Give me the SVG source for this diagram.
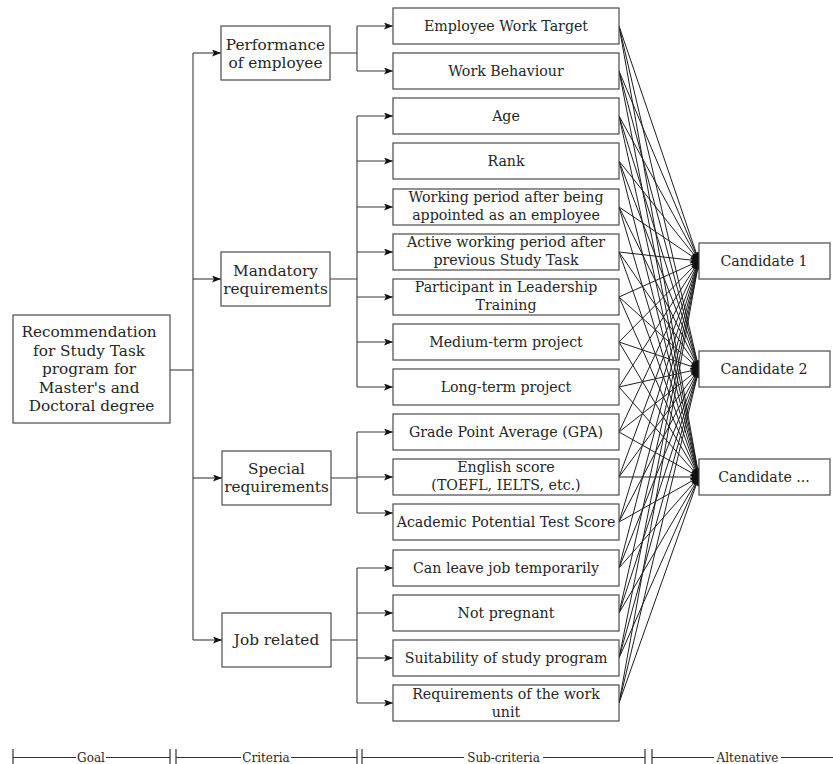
<svg xmlns="http://www.w3.org/2000/svg" width="833" height="764" viewBox="0 0 833 764">
  <style>
    .box { fill: #ffffff; stroke: #4a4a4a; stroke-width: 1.2; }
    .t { font-family: "DejaVu Serif", "Liberation Serif", serif; fill: #262626; text-anchor: middle; }
    .sub { font-size: 14.2px; }
    .big { font-size: 15.3px; }
    .lab { font-size: 12px; }
    .ln { fill: none; stroke: #3a3a3a; stroke-width: 1.1; }
    .fan { fill: none; stroke: #1e1e1e; stroke-width: 1; }
    .ax { fill: none; stroke: #333333; stroke-width: 1.2; }
  </style>
  <defs>
    <marker id="arr" viewBox="0 0 9 7" refX="9" refY="3.5" markerWidth="9" markerHeight="7" markerUnits="userSpaceOnUse" orient="auto">
      <path d="M0,0 L9,3.5 L0,7 L2,3.5 z" fill="#111111"/>
    </marker>
  </defs>

  <!-- connectors -->
  <g id="connectors">
    <!-- goal to criteria -->
    <path class="ln" d="M170,370 H193"/>
    <path class="ln" d="M193,53 V640"/>
    <path class="ln" d="M193,53 H221" marker-end="url(#arr)"/>
    <path class="ln" d="M193,279 H221" marker-end="url(#arr)"/>
    <path class="ln" d="M193,478 H222" marker-end="url(#arr)"/>
    <path class="ln" d="M193,640 H222" marker-end="url(#arr)"/>

    <!-- performance -->
    <path class="ln" d="M330,53 H357 M357,26 V71"/>
    <path class="ln" d="M357,26 H393" marker-end="url(#arr)"/>
    <path class="ln" d="M357,71 H393" marker-end="url(#arr)"/>

    <!-- mandatory -->
    <path class="ln" d="M330,279 H357 M357,116 V387"/>
    <path class="ln" d="M357,116 H393" marker-end="url(#arr)"/>
    <path class="ln" d="M357,161 H393" marker-end="url(#arr)"/>
    <path class="ln" d="M357,207 H393" marker-end="url(#arr)"/>
    <path class="ln" d="M357,252 H393" marker-end="url(#arr)"/>
    <path class="ln" d="M357,297 H393" marker-end="url(#arr)"/>
    <path class="ln" d="M357,342 H393" marker-end="url(#arr)"/>
    <path class="ln" d="M357,387 H393" marker-end="url(#arr)"/>

    <!-- special -->
    <path class="ln" d="M331,478 H357 M357,432 V513"/>
    <path class="ln" d="M357,432 H393" marker-end="url(#arr)"/>
    <path class="ln" d="M357,477 H393" marker-end="url(#arr)"/>
    <path class="ln" d="M357,513 H393" marker-end="url(#arr)"/>

    <!-- job related -->
    <path class="ln" d="M331,640 H357 M357,568 V703"/>
    <path class="ln" d="M357,568 H393" marker-end="url(#arr)"/>
    <path class="ln" d="M357,613 H393" marker-end="url(#arr)"/>
    <path class="ln" d="M357,658 H393" marker-end="url(#arr)"/>
    <path class="ln" d="M357,703 H393" marker-end="url(#arr)"/>

    <!-- sub-criteria to alternatives -->
    <g id="fan">
      <path class="fan" d="M619,26 L699,261" marker-end="url(#arr)"/>
      <path class="fan" d="M619,26 L699,369" marker-end="url(#arr)"/>
      <path class="fan" d="M619,26 L699,477" marker-end="url(#arr)"/>
      <path class="fan" d="M619,71 L699,261" marker-end="url(#arr)"/>
      <path class="fan" d="M619,71 L699,369" marker-end="url(#arr)"/>
      <path class="fan" d="M619,71 L699,477" marker-end="url(#arr)"/>
      <path class="fan" d="M619,116 L699,261" marker-end="url(#arr)"/>
      <path class="fan" d="M619,116 L699,369" marker-end="url(#arr)"/>
      <path class="fan" d="M619,116 L699,477" marker-end="url(#arr)"/>
      <path class="fan" d="M619,161 L699,261" marker-end="url(#arr)"/>
      <path class="fan" d="M619,161 L699,369" marker-end="url(#arr)"/>
      <path class="fan" d="M619,161 L699,477" marker-end="url(#arr)"/>
      <path class="fan" d="M619,207 L699,261" marker-end="url(#arr)"/>
      <path class="fan" d="M619,207 L699,369" marker-end="url(#arr)"/>
      <path class="fan" d="M619,207 L699,477" marker-end="url(#arr)"/>
      <path class="fan" d="M619,252 L699,261" marker-end="url(#arr)"/>
      <path class="fan" d="M619,252 L699,369" marker-end="url(#arr)"/>
      <path class="fan" d="M619,252 L699,477" marker-end="url(#arr)"/>
      <path class="fan" d="M619,297 L699,261" marker-end="url(#arr)"/>
      <path class="fan" d="M619,297 L699,369" marker-end="url(#arr)"/>
      <path class="fan" d="M619,297 L699,477" marker-end="url(#arr)"/>
      <path class="fan" d="M619,342 L699,261" marker-end="url(#arr)"/>
      <path class="fan" d="M619,342 L699,369" marker-end="url(#arr)"/>
      <path class="fan" d="M619,342 L699,477" marker-end="url(#arr)"/>
      <path class="fan" d="M619,387 L699,261" marker-end="url(#arr)"/>
      <path class="fan" d="M619,387 L699,369" marker-end="url(#arr)"/>
      <path class="fan" d="M619,387 L699,477" marker-end="url(#arr)"/>
      <path class="fan" d="M619,432 L699,261" marker-end="url(#arr)"/>
      <path class="fan" d="M619,432 L699,369" marker-end="url(#arr)"/>
      <path class="fan" d="M619,432 L699,477" marker-end="url(#arr)"/>
      <path class="fan" d="M619,477 L699,261" marker-end="url(#arr)"/>
      <path class="fan" d="M619,477 L699,369" marker-end="url(#arr)"/>
      <path class="fan" d="M619,477 L699,477" marker-end="url(#arr)"/>
      <path class="fan" d="M619,522 L699,261" marker-end="url(#arr)"/>
      <path class="fan" d="M619,522 L699,369" marker-end="url(#arr)"/>
      <path class="fan" d="M619,522 L699,477" marker-end="url(#arr)"/>
      <path class="fan" d="M619,568 L699,261" marker-end="url(#arr)"/>
      <path class="fan" d="M619,568 L699,369" marker-end="url(#arr)"/>
      <path class="fan" d="M619,568 L699,477" marker-end="url(#arr)"/>
      <path class="fan" d="M619,613 L699,261" marker-end="url(#arr)"/>
      <path class="fan" d="M619,613 L699,369" marker-end="url(#arr)"/>
      <path class="fan" d="M619,613 L699,477" marker-end="url(#arr)"/>
      <path class="fan" d="M619,658 L699,261" marker-end="url(#arr)"/>
      <path class="fan" d="M619,658 L699,369" marker-end="url(#arr)"/>
      <path class="fan" d="M619,658 L699,477" marker-end="url(#arr)"/>
      <path class="fan" d="M619,703 L699,261" marker-end="url(#arr)"/>
      <path class="fan" d="M619,703 L699,369" marker-end="url(#arr)"/>
      <path class="fan" d="M619,703 L699,477" marker-end="url(#arr)"/>
    </g>
  </g>

  <!-- goal -->
  <g id="goal">
    <rect class="box" x="13" y="315" width="157" height="108"/>
    <text class="t big">
      <tspan x="91.5" y="337">Recommendation</tspan>
      <tspan x="91.5" y="355.5">for Study Task</tspan>
      <tspan x="91.5" y="374">program for</tspan>
      <tspan x="91.5" y="392.5">Master's and</tspan>
      <tspan x="91.5" y="411">Doctoral degree</tspan>
    </text>
  </g>

  <!-- criteria -->
  <g id="performance">
    <rect class="box" x="221" y="26" width="109" height="54"/>
    <text class="t big"><tspan x="275.5" y="49.5">Performance</tspan><tspan x="275.5" y="67.5">of employee</tspan></text>
  </g>
  <g id="mandatory">
    <rect class="box" x="221" y="252" width="109" height="54"/>
    <text class="t big"><tspan x="275.5" y="275.5">Mandatory</tspan><tspan x="275.5" y="293.5">requirements</tspan></text>
  </g>
  <g id="special">
    <rect class="box" x="222" y="451" width="109" height="54"/>
    <text class="t big"><tspan x="276.5" y="474">Special</tspan><tspan x="276.5" y="492">requirements</tspan></text>
  </g>
  <g id="job-related">
    <rect class="box" x="222" y="613" width="109" height="54"/>
    <text class="t big" x="276.5" y="645">Job related</text>
  </g>

  <!-- sub-criteria -->
  <g id="employee-work-target">
    <rect class="box" x="393" y="8" width="226" height="36"/>
    <text class="t sub" x="506" y="31">Employee Work Target</text>
  </g>
  <g id="work-behaviour">
    <rect class="box" x="393" y="53" width="226" height="36"/>
    <text class="t sub" x="506" y="76">Work Behaviour</text>
  </g>
  <g id="age">
    <rect class="box" x="393" y="98" width="226" height="36"/>
    <text class="t sub" x="506" y="121">Age</text>
  </g>
  <g id="rank">
    <rect class="box" x="393" y="143" width="226" height="36"/>
    <text class="t sub" x="506" y="166">Rank</text>
  </g>
  <g id="working-period">
    <rect class="box" x="393" y="189" width="226" height="36"/>
    <text class="t sub"><tspan x="506" y="202">Working period after being</tspan><tspan x="506" y="220">appointed as an employee</tspan></text>
  </g>
  <g id="active-working-period">
    <rect class="box" x="393" y="234" width="226" height="36"/>
    <text class="t sub"><tspan x="506" y="247">Active working period after</tspan><tspan x="506" y="265">previous Study Task</tspan></text>
  </g>
  <g id="leadership-training">
    <rect class="box" x="393" y="279" width="226" height="36"/>
    <text class="t sub"><tspan x="506" y="292">Participant in Leadership</tspan><tspan x="506" y="310">Training</tspan></text>
  </g>
  <g id="medium-term-project">
    <rect class="box" x="393" y="324" width="226" height="36"/>
    <text class="t sub" x="506" y="347">Medium-term project</text>
  </g>
  <g id="long-term-project">
    <rect class="box" x="393" y="369" width="226" height="36"/>
    <text class="t sub" x="506" y="392">Long-term project</text>
  </g>
  <g id="gpa">
    <rect class="box" x="393" y="414" width="226" height="36"/>
    <text class="t sub" x="506" y="437">Grade Point Average (GPA)</text>
  </g>
  <g id="english-score">
    <rect class="box" x="393" y="459" width="226" height="36"/>
    <text class="t sub"><tspan x="506" y="472">English score</tspan><tspan x="506" y="490">(TOEFL, IELTS, etc.)</tspan></text>
  </g>
  <g id="academic-potential">
    <rect class="box" x="393" y="504" width="226" height="36"/>
    <text class="t sub" x="506" y="527">Academic Potential Test Score</text>
  </g>
  <g id="leave-job">
    <rect class="box" x="393" y="550" width="226" height="36"/>
    <text class="t sub" x="506" y="573">Can leave job temporarily</text>
  </g>
  <g id="not-pregnant">
    <rect class="box" x="393" y="595" width="226" height="36"/>
    <text class="t sub" x="506" y="618">Not pregnant</text>
  </g>
  <g id="study-program">
    <rect class="box" x="393" y="640" width="226" height="36"/>
    <text class="t sub" x="506" y="663">Suitability of study program</text>
  </g>
  <g id="work-unit">
    <rect class="box" x="393" y="685" width="226" height="36"/>
    <text class="t sub"><tspan x="506" y="699">Requirements of the work</tspan><tspan x="506" y="717">unit</tspan></text>
  </g>

  <!-- alternatives -->
  <g id="candidate-1">
    <rect class="box" x="699" y="243" width="131" height="36"/>
    <text class="t sub" x="764" y="266">Candidate 1</text>
  </g>
  <g id="candidate-2">
    <rect class="box" x="699" y="351" width="131" height="36"/>
    <text class="t sub" x="764" y="374">Candidate 2</text>
  </g>
  <g id="candidate-n">
    <rect class="box" x="699" y="459" width="131" height="36"/>
    <text class="t sub" x="764" y="482">Candidate ...</text>
  </g>

  <!-- level scale along the bottom -->
  <g id="levels">
    <path class="ax" d="M13,749 V766 M170,749 V766 M176,749 V766 M357,749 V766 M362,749 V766 M645,749 V766 M652,749 V766"/>
    <path class="ax" d="M13,757.5 H76 M106,757.5 H170"/>
    <path class="ax" d="M176,757.5 H241 M291,757.5 H357"/>
    <path class="ax" d="M362,757.5 H464 M543,757.5 H645"/>
    <path class="ax" d="M652,757.5 H714 M781,757.5 H833"/>
    <text class="t lab" x="91" y="762">Goal</text>
    <text class="t lab" x="266" y="762">Criteria</text>
    <text class="t lab" x="503.5" y="762">Sub-criteria</text>
    <text class="t lab" x="747.5" y="762">Altenative</text>
  </g>
</svg>
